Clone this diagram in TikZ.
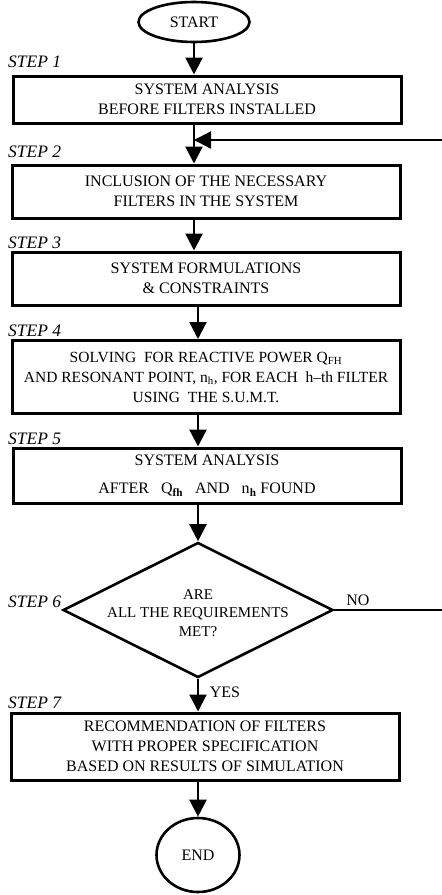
\documentclass[tikz,border=0pt]{standalone}
\usepackage{fontspec}
\setmainfont{Liberation Serif}
\usetikzlibrary{arrows.meta,shapes.geometric}

\begin{document}
\begin{tikzpicture}[x=1pt, y=-1pt,
    font=\fontsize{16}{20}\selectfont,
    box/.style={draw, line width=3pt, align=center, minimum width=388pt, inner sep=0pt},
    steplbl/.style={anchor=base west, inner sep=0pt, font=\fontsize{17.5}{20}\selectfont\itshape},
    flow/.style={-{Triangle[length=17pt,width=17pt]}, line width=2.2pt}]
    \useasboundingbox (0,0) rectangle (442,895);
    \node[draw, ellipse, line width=2.6pt, minimum width=111pt, minimum height=40pt, inner sep=0pt] at (194,22) (Start) {START};
    \node[box, minimum height=47pt] at (207,99.5) (SysAna) {SYSTEM ANALYSIS\\ BEFORE FILTERS INSTALLED};
    \node[box, minimum height=53pt] at (206,191.5) (InclFilt) {INCLUSION OF THE NECESSARY\\ FILTERS IN THE SYSTEM};
    \node[box, minimum height=53pt] at (206,278.5) (SysForm) {SYSTEM FORMULATIONS\\ \&\ CONSTRAINTS};
    \node[box, minimum height=73pt, font=\fontsize{15.5}{20}\selectfont] at (206,377) (Solve) {SOLVING\ \ FOR REACTIVE POWER Q\textsubscript{FH}\\ AND RESONANT POINT, n\textsubscript{h}, FOR EACH\ \ h--th FILTER\\ USING\ \ THE S.U.M.T.};
    \node[box, minimum height=55pt] at (207,475.5) (SysAft) {SYSTEM ANALYSIS\\[8pt] AFTER\ \ \ Q\textsubscript{\textbf{fh}}\ \ \ AND\ \ \ n\textsubscript{\textbf{h}} FOUND};
    \node[draw, diamond, line width=2.6pt, minimum width=270pt, minimum height=135pt, inner sep=0pt] at (198,610) (Req) {};
    \node[align=center, font=\fontsize{15}{18.5}\selectfont] at (198,613) (ReqTxt) {ARE\\ ALL THE REQUIREMENTS\\ MET?};
    \node[box, minimum height=67pt] at (205,746.5) (Recom) {RECOMMENDATION OF FILTERS\\ WITH PROPER SPECIFICATION\\ BASED ON RESULTS OF SIMULATION};
    \node[draw, ellipse, line width=2.6pt, minimum width=83pt, minimum height=74pt, inner sep=0pt] at (198,855) (Stop) {END};
    % step labels
    \node[steplbl] at (8,67) (St1) {STEP 1};
    \node[steplbl] at (8,157) (St2) {STEP 2};
    \node[steplbl] at (8,248) (St3) {STEP 3};
    \node[steplbl] at (8,336) (St4) {STEP 4};
    \node[steplbl] at (8,444) (St5) {STEP 5};
    \node[steplbl] at (8,607) (St6) {STEP 6};
    \node[steplbl] at (8,708) (St7) {STEP 7};
    \node at (358,600) (No) {NO};
    \node at (225,692) (Yes) {YES};
    % main flow
    \draw[flow] (Start) -- (SysAna.north -| Start);
    \draw[flow] (SysAna.south -| Start) -- (InclFilt.north -| Start);
    \draw[flow] (InclFilt.south -| Start) -- (SysForm.north -| Start);
    \draw[flow] (SysForm.south -| Req) -- (Solve.north -| Req);
    \draw[flow] (Solve.south -| Req) -- (SysAft.north -| Req);
    \draw[flow] (SysAft.south -| Req) -- (Req.north);
    \draw[flow] (Req.south) -- (Recom.north -| Req);
    \draw[flow] (Recom.south -| Stop) -- (Stop.north);
    % loop back when NO
    \coordinate (NoEnd) at (442,610);
    \coordinate (BackIn) at (442,140);
    \draw[line width=2.2pt] (Req.east) -- (NoEnd);
    \draw[flow] (BackIn) -- (BackIn -| Start);
\end{tikzpicture}
\end{document}
